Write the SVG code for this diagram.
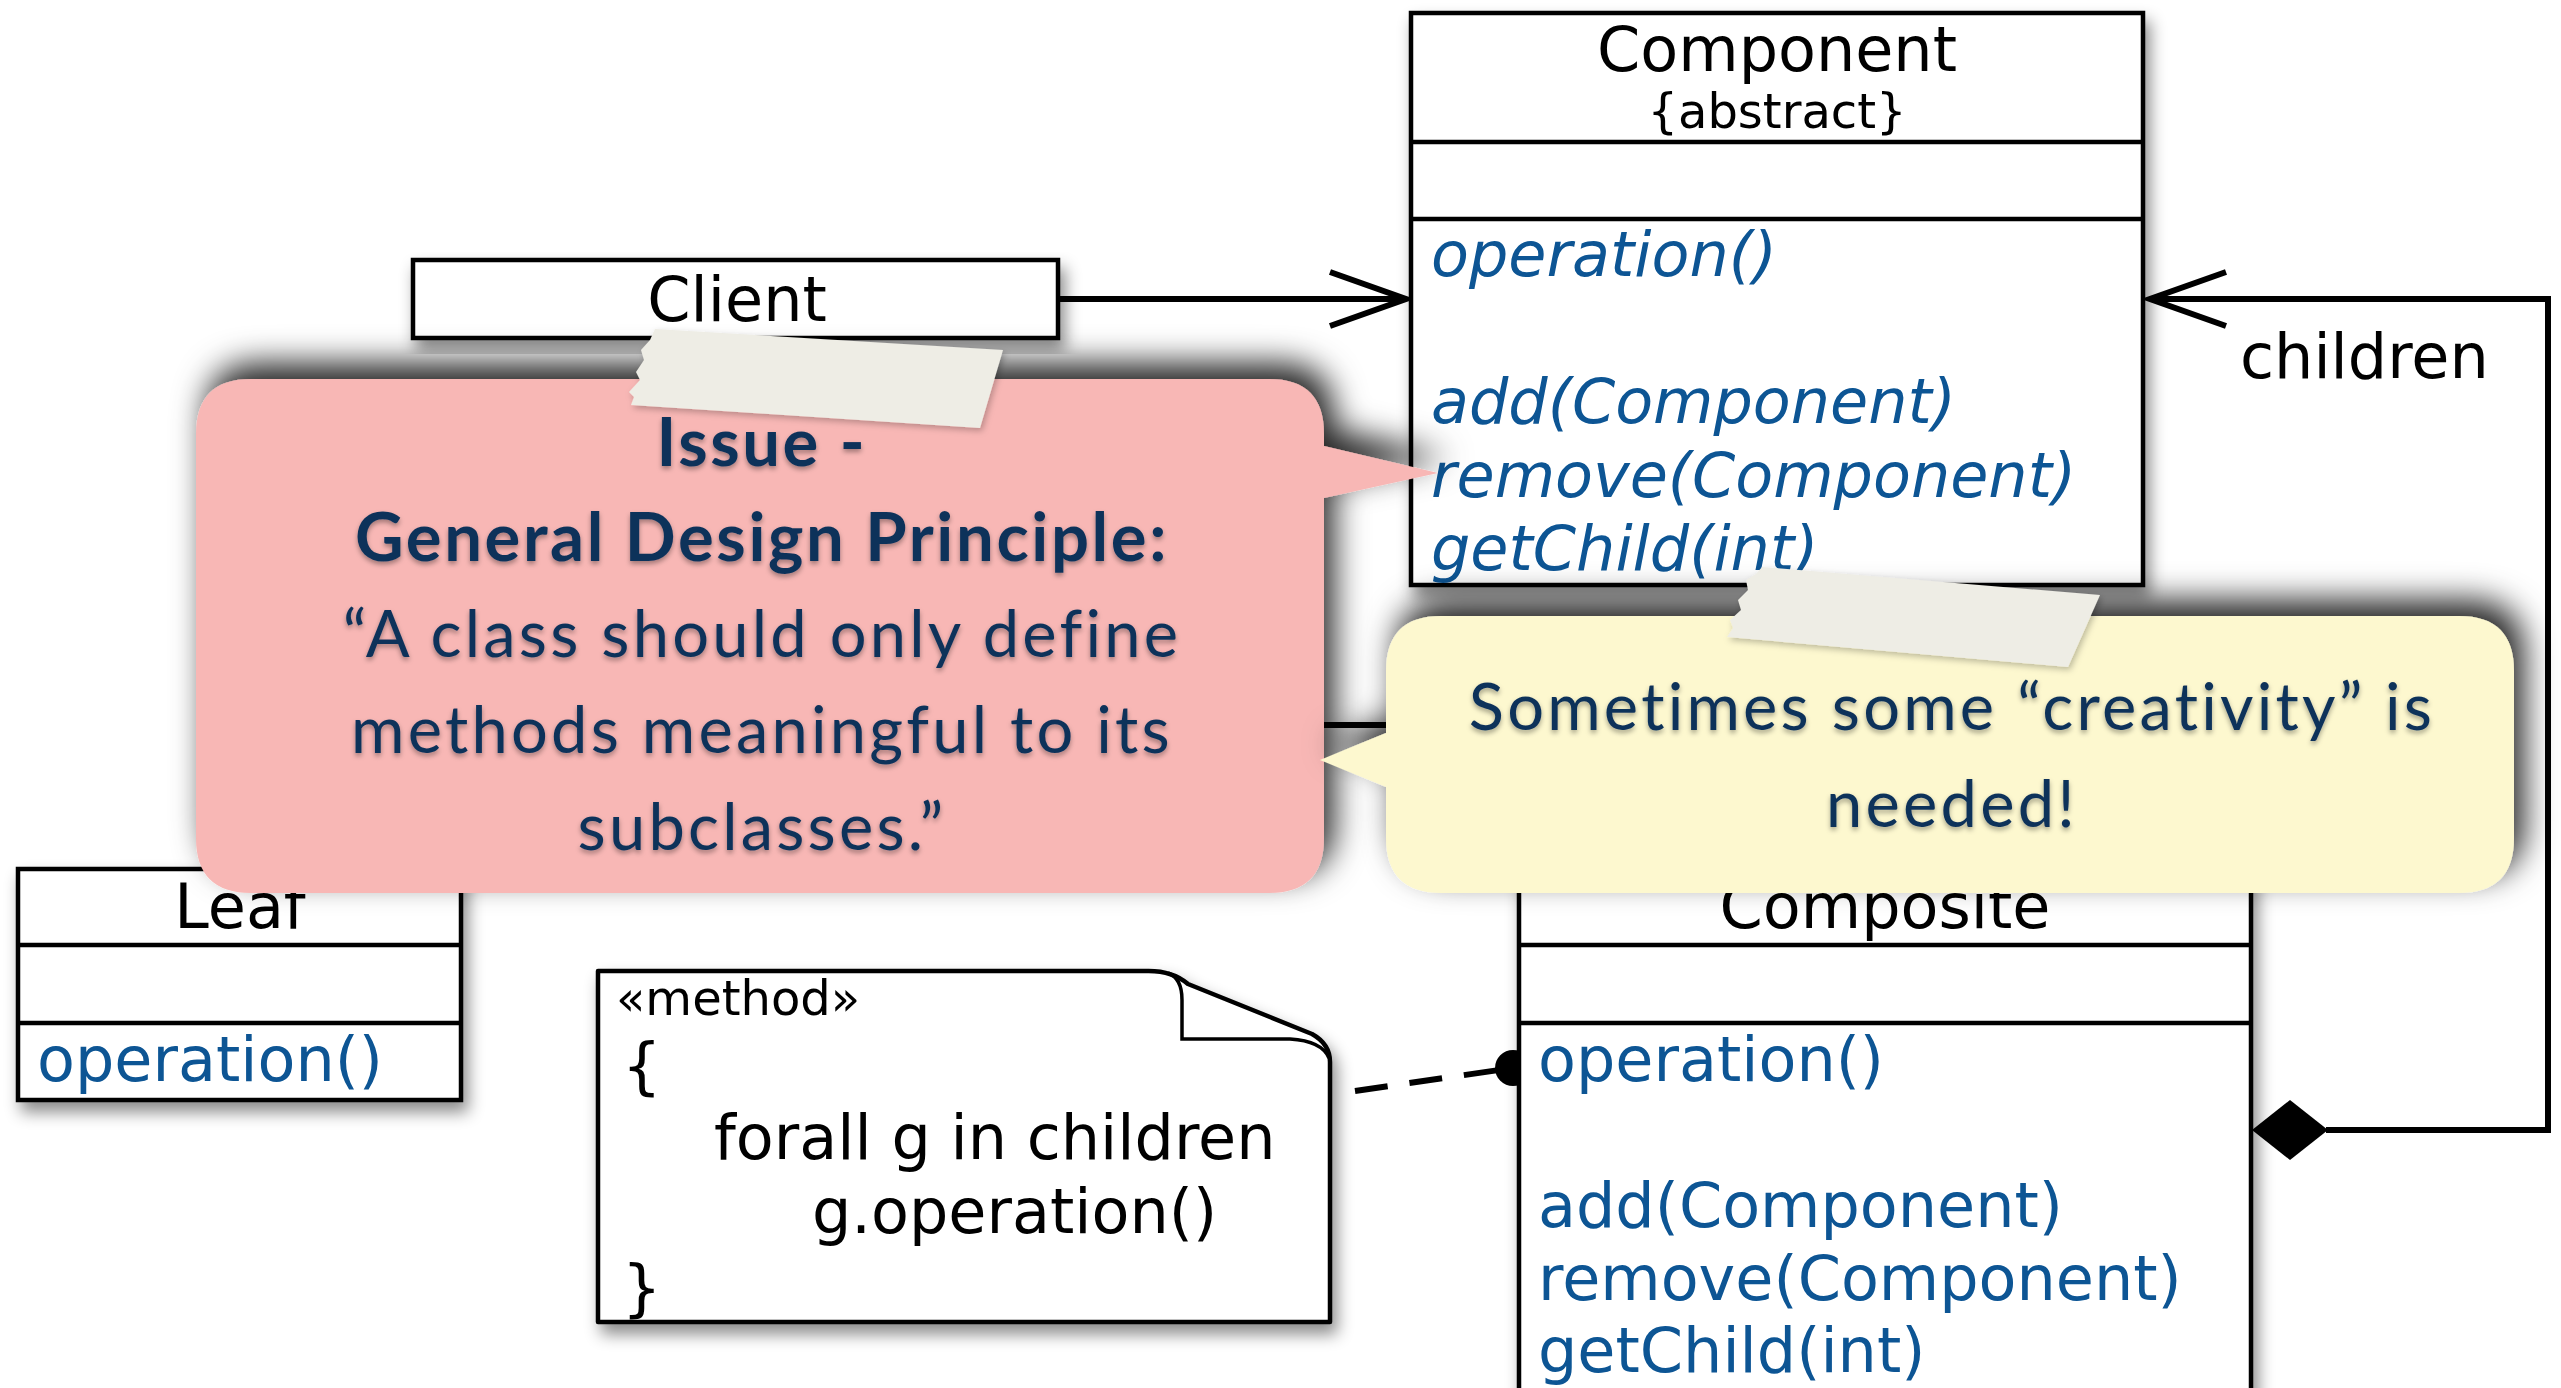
<svg xmlns="http://www.w3.org/2000/svg" width="2561" height="1388" viewBox="0 0 2561 1388">
<defs>
<style>
.box{fill:#fff;stroke:#000;stroke-width:4.5}
.div{stroke:#000;stroke-width:4.5}
.title{font-family:"DejaVu Sans",sans-serif;font-size:62px;fill:#000}
.op{font-family:"DejaVu Sans",sans-serif;font-size:62px;fill:#0A5494}
.opi{font-family:"DejaVu Sans",sans-serif;font-size:62px;fill:#0A5494;font-style:italic}
.code{font-family:"DejaVu Sans",sans-serif;font-size:62px;fill:#000}
.small{font-family:"DejaVu Sans",sans-serif;font-size:48px;fill:#000}
.line{fill:none;stroke:#000;stroke-width:6}
.nb{font-family:Lato,"Noto Sans",sans-serif;font-weight:bold;font-size:67px;letter-spacing:2.6px;fill:#10325A;text-anchor:middle}
.nr{font-family:Lato,"Noto Sans",sans-serif;font-size:65px;letter-spacing:3.2px;fill:#10325A;text-anchor:middle}
.tape{fill:#EEEDE5}
</style>
<filter id="boxShadow" x="-10%" y="-10%" width="125%" height="130%">
<feDropShadow dx="5" dy="10" stdDeviation="8" flood-color="#000" flood-opacity="0.45"/>
</filter>
<filter id="noteShadow" x="-10%" y="-30%" width="125%" height="150%">
<feDropShadow dx="10" dy="-16" stdDeviation="16" flood-color="#000" flood-opacity="0.85"/>
</filter>
<filter id="textShadow" x="-5%" y="-20%" width="110%" height="150%">
<feDropShadow dx="0" dy="3" stdDeviation="2.5" flood-color="#000" flood-opacity="0.35"/>
</filter>
<filter id="tapeShadow" x="-10%" y="-20%" width="120%" height="150%">
<feDropShadow dx="2" dy="3" stdDeviation="3" flood-color="#000" flood-opacity="0.25"/>
</filter>
<marker id="openArrow" markerUnits="userSpaceOnUse" viewBox="-90 -40 100 80" markerWidth="100" markerHeight="80" refX="0" refY="0" orient="auto" overflow="visible">
<path d="M-76,-27 L0,0 L-76,27" fill="none" stroke="#000" stroke-width="6"/>
</marker>
</defs>

<rect x="0" y="0" width="2561" height="1388" fill="#fff"/>

<g id="connectors">
<path class="line" d="M1058,299 H1406" marker-end="url(#openArrow)"/>
<path class="line" d="M2326,1130 H2548 V299 H2150" marker-end="url(#openArrow)"/>
<polygon points="2252,1130 2290,1100 2328,1130 2290,1160" fill="#000"/>
<path class="line" d="M1777,640 V725 M240,725 H1885 M240,725 V869 M1885,725 V869"/>
<polygon points="1777,588 1747,640 1807,640" fill="#fff" stroke="#000" stroke-width="5"/>
<path d="M1355,1091 L1513,1068" fill="none" stroke="#000" stroke-width="6" stroke-dasharray="33 22"/>
<circle cx="1513" cy="1068" r="18" fill="#000"/>
<text class="title" x="2240" y="378">children</text>
</g>

<g id="component" filter="url(#boxShadow)">
<rect class="box" x="1411" y="13" width="732" height="572"/>
<line class="div" x1="1411" y1="142" x2="2143" y2="142"/>
<line class="div" x1="1411" y1="219" x2="2143" y2="219"/>
<text class="title" x="1777" y="71" text-anchor="middle">Component</text>
<text class="small" x="1777" y="128" text-anchor="middle">{abstract}</text>
<text class="opi" x="1431" y="276">operation()</text>
<text class="opi" x="1431" y="423">add(Component)</text>
<text class="opi" x="1431" y="497">remove(Component)</text>
<text class="opi" x="1431" y="570">getChild(int)</text>
</g>

<g id="client" filter="url(#boxShadow)">
<rect class="box" x="413" y="260" width="645" height="78"/>
<text class="title" x="737" y="321" text-anchor="middle">Client</text>
</g>

<g id="leaf" filter="url(#boxShadow)">
<rect class="box" x="18" y="869" width="443" height="231"/>
<line class="div" x1="18" y1="945" x2="461" y2="945"/>
<line class="div" x1="18" y1="1023" x2="461" y2="1023"/>
<text class="title" x="240" y="928" text-anchor="middle">Leaf</text>
<text class="op" x="37" y="1081">operation()</text>
</g>

<g id="composite" filter="url(#boxShadow)">
<rect class="box" x="1519" y="869" width="732" height="560"/>
<line class="div" x1="1519" y1="945" x2="2251" y2="945"/>
<line class="div" x1="1519" y1="1023" x2="2251" y2="1023"/>
<text class="title" x="1885" y="928" text-anchor="middle">Composite</text>
<text class="op" x="1538" y="1081">operation()</text>
<text class="op" x="1538" y="1227">add(Component)</text>
<text class="op" x="1538" y="1300">remove(Component)</text>
<text class="op" x="1538" y="1372">getChild(int)</text>
</g>

<g id="method-note" filter="url(#boxShadow)">
<path d="M598,971 H1145 Q1172,970 1188,984 L1312,1034 Q1330,1044 1330,1062 V1322 H598 Z" fill="#fff" stroke="#000" stroke-width="4.5" stroke-linejoin="round"/>
<path d="M1168,973 Q1182,978 1182,1000 V1039 H1290 Q1322,1041 1329,1058" fill="none" stroke="#000" stroke-width="3.5"/>
<text class="small" x="616" y="1015">«method»</text>
<text class="code" x="622" y="1087">{</text>
<text class="code" x="714" y="1159">forall g in children</text>
<text class="code" x="812" y="1233">g.operation()</text>
<text class="code" x="622" y="1309">}</text>
</g>

<g id="note-issue">
<path filter="url(#noteShadow)" fill="#F8B7B5" d="M251,379 H1269 Q1324,379 1324,434 V446 L1438,473 L1324,498 V838 Q1324,893 1269,893 H251 Q196,893 196,838 V434 Q196,379 251,379 Z"/>
<g filter="url(#textShadow)">
<text class="nb" x="762" y="466">Issue -</text>
<text class="nb" x="762" y="561">General Design Principle:</text>
<text class="nr" x="762" y="657">“A class should only define</text>
<text class="nr" x="762" y="753">methods meaningful to its</text>
<text class="nr" x="762" y="850">subclasses.”</text>
</g>
<polygon class="tape" filter="url(#tapeShadow)" points="655,329 1003,350 980,428 631,405 634,397 629,392 640,380 636,372 644,360 641,350 650,340"/>
</g>

<g id="note-creativity">
<path filter="url(#noteShadow)" fill="#FDF8CF" d="M1441,616 H2459 Q2514,616 2514,671 V838 Q2514,893 2459,893 H1441 Q1386,893 1386,838 V787 L1320,760 L1386,733 V671 Q1386,616 1441,616 Z"/>
<g filter="url(#textShadow)">
<text class="nr" x="1952" y="730">Sometimes some “creativity” is</text>
<text class="nr" x="1952" y="827">needed!</text>
</g>
<polygon class="tape" filter="url(#tapeShadow)" points="1762,567 2100,595 2068,667 1727,637 1733,628 1730,620 1741,610 1738,600 1748,590 1746,580 1756,574"/>
</g>
</svg>
